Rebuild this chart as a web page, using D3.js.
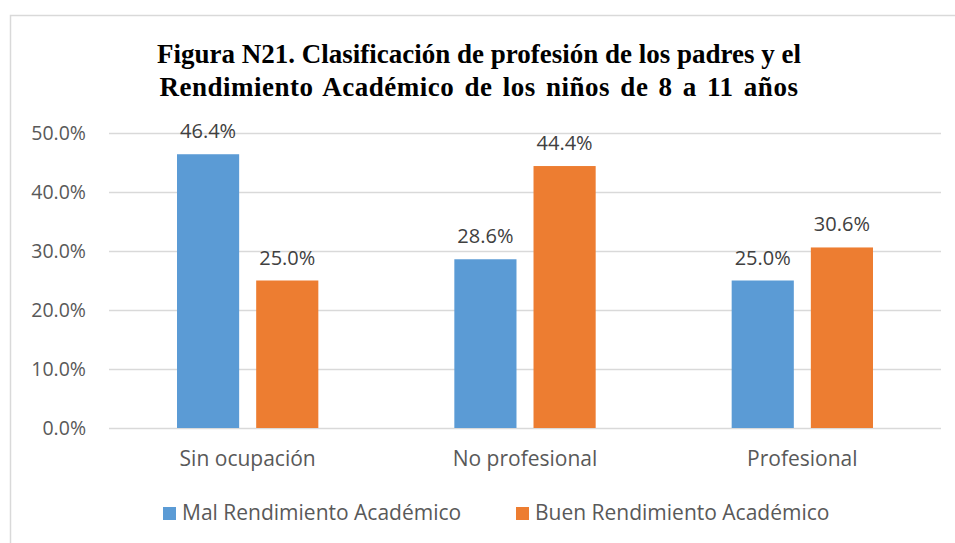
<!DOCTYPE html>
<html>
<head>
<meta charset="utf-8">
<script src="https://d3js.org/d3.v7.min.js"></script>
<style>
  body { margin: 0; background: #fff; }
  svg text { font-family: "Open Sans", sans-serif; }
</style>
</head>
<body>
<div id="chart"></div>
<script>
var categories = ["Sin ocupación", "No profesional", "Profesional"];
var series = ["Mal Rendimiento Académico", "Buen Rendimiento Académico"];
var malValues = [46.4, 28.6, 25.0];
var buenValues = [25.0, 44.4, 30.6];
var yTicks = [0, 10, 20, 30, 40, 50];
var colors = ["#5b9bd5", "#ed7d31"];

var width = 955, height = 543;
var margin = { top: 133, left: 109, right: 14, bottom: 115 };
var plotW = width - margin.left - margin.right;
var plotH = height - margin.top - margin.bottom;

var svg = d3.select("#chart")
  .append("svg")
  .attr("width", width)
  .attr("height", height);

// chart frame
svg.append("rect")
  .attr("x", 10.5)
  .attr("y", 15.5)
  .attr("width", 960)
  .attr("height", 560)
  .attr("fill", "none")
  .attr("stroke", "#d9d9d9")
  .attr("stroke-width", 1.5);

// title (second line is a bit spread out in the original)
var title = svg.append("text")
  .attr("text-anchor", "middle")
  .attr("font-weight", "bold")
  .attr("font-size", 27)
  .attr("fill", "#000")
  .style("font-family", "'Liberation Serif', 'Times New Roman', serif");
title.append("tspan").attr("x", 479).attr("y", 63)
  .text("Figura N21. Clasificación de profesión de los padres y el");
title.append("tspan").attr("x", 479).attr("y", 96)
  .style("word-spacing", "3px")
  .style("letter-spacing", "0.5px")
  .text("Rendimiento Académico de los niños de 8 a 11 años");

var g = svg.append("g")
  .attr("transform", "translate(" + margin.left + "," + margin.top + ")");

var x = d3.scaleBand()
  .domain(categories)
  .range([0, plotW])
  .paddingInner(0)
  .paddingOuter(0);

var x1 = d3.scaleBand()
  .domain(series)
  .range([68, x.bandwidth() - 68])
  .paddingInner(0.215);

var y = d3.scaleLinear()
  .domain([0, 50])
  .range([plotH, 0]);

// gridlines
g.selectAll(".grid")
  .data(yTicks)
  .enter()
  .append("line")
  .attr("x1", 0)
  .attr("x2", plotW)
  .attr("y1", function(d) { return Math.round(y(d)) + 0.5; })
  .attr("y2", function(d) { return Math.round(y(d)) + 0.5; })
  .attr("stroke", "#d9d9d9")
  .attr("stroke-width", 1.5);

// y axis labels
var yAxis = d3.axisLeft(y)
  .tickValues(yTicks)
  .tickSize(0)
  .tickPadding(23)
  .tickFormat(function(d) { return d.toFixed(1) + "%"; });

var yg = g.append("g").call(yAxis);
yg.select(".domain").remove();
yg.selectAll("text")
  .attr("font-size", 19.5)
  .attr("fill", "#595959")
  .style("font-family", "'Open Sans', sans-serif");

// bars
var rows = categories.map(function(c, i) {
  return { cat: c, vals: [malValues[i], buenValues[i]] };
});

var groups = g.selectAll(".cat")
  .data(rows)
  .enter()
  .append("g")
  .attr("transform", function(d) { return "translate(" + x(d.cat) + ",0)"; });

groups.selectAll("rect")
  .data(function(d) { return d.vals.map(function(v, j) { return { s: series[j], v: v, j: j }; }); })
  .enter()
  .append("rect")
  .attr("x", function(d) { return x1(d.s); })
  .attr("y", function(d) { return y(d.v); })
  .attr("width", x1.bandwidth())
  .attr("height", function(d) { return plotH - y(d.v); })
  .attr("fill", function(d) { return colors[d.j]; });

groups.selectAll(".lbl")
  .data(function(d) { return d.vals.map(function(v, j) { return { s: series[j], v: v, j: j }; }); })
  .enter()
  .append("text")
  .attr("x", function(d) { return x1(d.s) + x1.bandwidth() / 2; })
  .attr("y", function(d) { return y(d.v) - 16; })
  .attr("text-anchor", "middle")
  .attr("font-size", 20)
  .attr("fill", "#404040")
  .text(function(d) { return d.v.toFixed(1) + "%"; });

// category labels
var xAxis = d3.axisBottom(x).tickSize(0).tickPadding(23);
var xg = g.append("g")
  .attr("transform", "translate(0," + plotH + ")")
  .call(xAxis);
xg.select(".domain").remove();
xg.selectAll("text")
  .attr("font-size", 21)
  .attr("fill", "#595959")
  .style("font-family", "'Open Sans', sans-serif");

// legend
var legendX = [163, 516];
var legend = svg.selectAll(".legend")
  .data(series)
  .enter()
  .append("g")
  .attr("transform", function(d, i) { return "translate(" + legendX[i] + ",505)"; });

legend.append("rect")
  .attr("width", 13)
  .attr("height", 13)
  .attr("y", 2)
  .attr("fill", function(d, i) { return colors[i]; });

legend.append("text")
  .attr("x", 19)
  .attr("y", 15)
  .attr("font-size", 21)
  .attr("fill", "#595959")
  .text(function(d) { return d; });
</script>
</body>
</html>
